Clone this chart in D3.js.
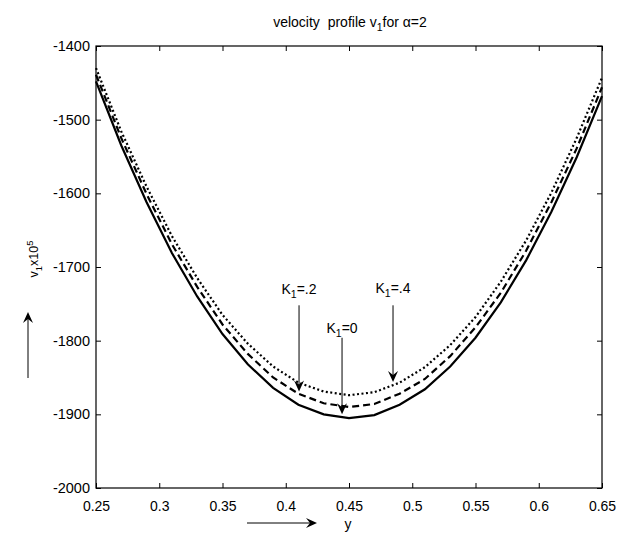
<!DOCTYPE html>
<html><head><meta charset="utf-8">
<script src="https://cdn.jsdelivr.net/npm/d3@7"></script>
<style>body{margin:0;background:#fff}svg{display:block}text{font-family:"Liberation Sans",Arial,sans-serif;white-space:pre}</style>
</head><body><svg id="c" width="635" height="536"></svg>
<script>
const yPos = [0.25,0.27,0.29,0.31,0.33,0.35,0.37,0.39,0.41,0.43,0.45,0.47,0.49,0.51,0.53,0.55,0.57,0.59,0.61,0.63,0.65];
const vK0  = [-1448,-1535,-1612,-1681,-1740,-1791,-1832,-1864,-1887,-1900,-1905,-1901,-1887,-1866,-1835,-1796,-1748,-1691,-1625,-1551,-1468];
const vK02 = [-1439,-1525,-1601,-1669,-1727,-1778,-1818,-1850,-1872,-1885,-1890,-1886,-1872,-1852,-1821,-1782,-1735,-1678,-1612,-1539,-1456];
const vK04 = [-1430,-1516,-1591,-1658,-1715,-1765,-1804,-1835,-1857,-1869,-1874,-1870,-1857,-1836,-1806,-1768,-1720,-1664,-1599,-1525,-1443];
const xTicks = [0.25,0.3,0.35,0.4,0.45,0.5,0.55,0.6,0.65];
const xTickLabels = ["0.25","0.3","0.35","0.4","0.45","0.5","0.55","0.6","0.65"];
const yTicks = [-2000,-1900,-1800,-1700,-1600,-1500,-1400];
const yTickLabels = ["-2000","-1900","-1800","-1700","-1600","-1500","-1400"];
const seriesNames = ["K1=0","K1=.2","K1=.4"];

const svg = d3.select("#c");
const L=96, R=602, T=46, B=488;
const x = d3.scaleLinear().domain([0.25,0.65]).range([L,R]);
const y = d3.scaleLinear().domain([-2000,-1400]).range([B,T]);
const font = 14;

// axes
const gx = svg.append("g").attr("transform",`translate(0,${B})`)
  .call(d3.axisBottom(x).tickValues(xTicks).tickSize(-5).tickPadding(13).tickFormat((d,i)=>xTickLabels[i]));
const gxt = svg.append("g").attr("transform",`translate(0,${T})`)
  .call(d3.axisTop(x).tickValues(xTicks).tickSize(-5).tickFormat(""));
const gy = svg.append("g").attr("transform",`translate(${L},0)`)
  .call(d3.axisLeft(y).tickValues(yTicks).tickSize(-5).tickPadding(6).tickFormat((d,i)=>yTickLabels[i]));
const gyr = svg.append("g").attr("transform",`translate(${R},0)`)
  .call(d3.axisRight(y).tickValues(yTicks).tickSize(-5).tickFormat(""));
[gx,gxt,gy,gyr].forEach(g=>{
  g.select(".domain").remove();
  g.selectAll("line").attr("stroke","#000");
  g.selectAll("text").attr("font-size",font).attr("fill","#000").style("font-family",'"Liberation Sans",Arial,sans-serif');
});
gy.selectAll("text").attr("font-size",14.5);
svg.append("rect").attr("x",L).attr("y",T).attr("width",R-L).attr("height",B-T)
  .attr("fill","none").attr("stroke","#000").attr("stroke-width",1.2);

// curves
const line = d3.line().x((d,i)=>x(yPos[i])).y(d=>y(d));
const styles = [
  {data:vK0, dash:null},
  {data:vK02, dash:"7,4"},
  {data:vK04, dash:"2,2.5"}
];
styles.forEach(s=>{
  svg.append("path").datum(s.data).attr("d",line)
    .attr("fill","none").attr("stroke","#000").attr("stroke-width",2.2)
    .attr("stroke-dasharray",s.dash);
});

function arrowHead(g, tipX, tipY, dir){
  const p = d3.path();
  const len=11, w=5, notch=7;
  if(dir==='down'){
    p.moveTo(tipX,tipY); p.lineTo(tipX-w,tipY-len); p.lineTo(tipX,tipY-notch); p.lineTo(tipX+w,tipY-len); p.closePath();
  } else if(dir==='up'){
    p.moveTo(tipX,tipY); p.lineTo(tipX-w,tipY+len); p.lineTo(tipX,tipY+notch); p.lineTo(tipX+w,tipY+len); p.closePath();
  } else {
    p.moveTo(tipX,tipY); p.lineTo(tipX-len,tipY-w); p.lineTo(tipX-notch,tipY); p.lineTo(tipX-len,tipY+w); p.closePath();
  }
  g.append("path").attr("d",p.toString()).attr("fill","#000");
}

// annotations
const ann = [
  {sub:"=.2", px:0.4105, pv:-1869, textV:-1737, lineTopV:-1752},
  {sub:"=0",  px:0.4445, pv:-1900, textV:-1789, lineTopV:-1796},
  {sub:"=.4", px:0.4848, pv:-1856, textV:-1735, lineTopV:-1752}
];
ann.forEach(a=>{
  const ax = x(a.px);
  svg.append("line").attr("x1",ax).attr("x2",ax).attr("y1",y(a.lineTopV)).attr("y2",y(a.pv)-3)
    .attr("stroke","#000").attr("stroke-width",1);
  arrowHead(svg, ax, y(a.pv), 'down');
  const t = svg.append("text").attr("x",ax).attr("y",y(a.textV)).attr("text-anchor","middle")
    .attr("font-size",font).attr("fill","#000");
  t.append("tspan").text("K");
  t.append("tspan").attr("font-size",font*0.75).attr("dy",4).text("1");
  t.append("tspan").attr("dy",-4).text(a.sub);
});

// title
const title = svg.append("text").attr("x",350).attr("y",27).attr("text-anchor","middle").attr("font-size",font).attr("fill","#000");
title.append("tspan").text("velocity  profile v");
title.append("tspan").attr("font-size",font*0.75).attr("dy",4).text("1");
title.append("tspan").attr("dy",-4).text("for \u03b1=2");

// x label and arrow
svg.append("text").attr("x",348).attr("y",529).attr("text-anchor","middle").attr("font-size",font).attr("fill","#000").text("y");
svg.append("line").attr("x1",247).attr("x2",312).attr("y1",523).attr("y2",523).attr("stroke","#000").attr("stroke-width",1);
arrowHead(svg, 317, 523, 'right');

// y label and arrow
const yf = 12.5;
const yl = svg.append("text").attr("transform","translate(38,259) rotate(-90)").attr("text-anchor","middle").attr("font-size",yf).attr("fill","#000");
yl.append("tspan").text("v");
yl.append("tspan").attr("font-size",yf*0.75).attr("dy",3.5).text("1");
yl.append("tspan").attr("dy",-3.5).text("x10");
yl.append("tspan").attr("font-size",yf*0.75).attr("dy",-5.5).text("5");
svg.append("line").attr("x1",28).attr("x2",28).attr("y1",378).attr("y2",318).attr("stroke","#000").attr("stroke-width",1);
arrowHead(svg, 28, 312, 'up');
</script></body></html>
